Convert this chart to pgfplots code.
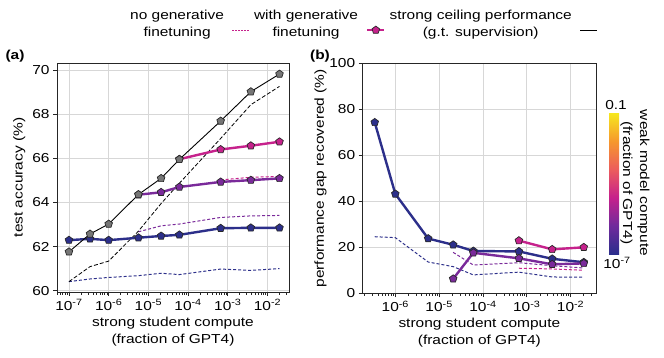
\documentclass[border=0pt]{standalone}
\usepackage{fontspec}
\setmainfont{Liberation Sans}[FakeStretch=1.19]
\usepackage{pgfplots}
\pgfplotsset{compat=1.18}
\usetikzlibrary{plotmarks}

\definecolor{wnavy}{RGB}{44,47,138}
\definecolor{wpurple}{RGB}{122,42,154}
\definecolor{wmag}{RGB}{198,34,140}
\definecolor{ceilgray}{RGB}{118,118,118}
\definecolor{edge}{RGB}{40,40,40}
\definecolor{gridgray}{RGB}{215,215,215}

\newcommand\fs{\fontsize{13}{17}\selectfont}

% weak model compute colour scale (10^-7 bottom, 0.1 top); TikZ maps 25bp..75bp onto the path
\pgfdeclareverticalshading{weakbar}{100bp}{
  rgb(0bp)=(0.165,0.180,0.549);
  rgb(25bp)=(0.165,0.180,0.549);
  rgb(35bp)=(0.439,0.165,0.612);
  rgb(45bp)=(0.776,0.125,0.549);
  rgb(55bp)=(0.925,0.361,0.361);
  rgb(65bp)=(0.965,0.596,0.173);
  rgb(75bp)=(0.965,0.910,0.118);
  rgb(100bp)=(0.965,0.910,0.118)}

\pgfplotsset{
  panel/.style={
    scale only axis,
    tick align=outside, xtick pos=bottom, ytick pos=left,
    grid=major, grid style={gridgray, line width=0.7pt},
    axis line style={line width=0.8pt, black!85},
    tick style={black!85, line width=0.7pt},
    major tick length=4pt, minor tick length=2.5pt,
    font=\fs,
    yticklabel style={/pgf/number format/assume math mode=true},
    xlabel style={align=center},
    xlabel={strong student compute\\(fraction of GPT4)},
  },
  thickw/.style={line width=2.4pt, mark=pentagon*, mark size=4pt,
    mark options={fill=#1, draw=edge, line width=0.7pt, solid}, #1},
  dashw/.style={#1, line width=1pt, dash pattern=on 3pt off 2pt},
}

\begin{document}
\begin{tikzpicture}
\useasboundingbox (0pt,0pt) rectangle (664pt,357pt);

% ---------- (a) test accuracy ----------
\begin{semilogxaxis}[panel,
  log basis x=10,
  xticklabel={\pgfmathparse{int(round(\tick))}10\textsuperscript{\pgfmathresult}},
  at={(57pt,65pt)}, anchor=south west,
  width=232pt, height=229pt,
  xmin=5.0e-8, xmax=3.47e-2,
  ymin=59.94, ymax=70.32,
  ytick={60,62,64,66,68,70},
  ylabel={test accuracy (\%)},
  legend plot pos=right,
  legend image post style={yshift=-6pt},
  legend style={at={(1.319,1.17)}, anchor=center, draw=none, fill=none,
    legend columns=3, cells={align=center}, font=\fs,
    /tikz/every even column/.append style={column sep=2pt},
    /tikz/every odd column/.append style={column sep=6pt}},
]
\addlegendimage{wmag, line width=1pt, dash pattern=on 1.5pt off 1.5pt}
\addlegendentry{no generative\\finetuning}
\addlegendimage{thickw=wmag}
\addlegendentry{with generative\\finetuning}
\addlegendimage{black, line width=0.9pt}
\addlegendentry{strong ceiling performance\\(g.t. supervision)}

% no generative finetuning
\addplot[dashw=wnavy, forget plot] coordinates {
 (1e-7,60.41)(3.39e-7,60.53)(1e-6,60.60)(5.62e-6,60.68)(2.09e-5,60.79)
 (6.03e-5,60.73)(6.61e-4,60.98)(3.80e-3,60.92)(2.0e-2,61.00)};
\addplot[dashw=wpurple, forget plot] coordinates {
 (5.62e-6,62.67)(2.09e-5,62.94)(6.03e-5,63.02)(6.61e-4,63.32)(3.80e-3,63.39)(2.0e-2,63.41)};
\addplot[dashw=wmag, forget plot] coordinates {
 (6.61e-4,65.02)(3.80e-3,65.14)(2.0e-2,65.18)};
\addplot[black, line width=0.8pt, dash pattern=on 4pt off 2pt, forget plot] coordinates {
 (1e-7,60.41)(3.39e-7,61.09)(1e-6,61.34)(5.62e-6,62.70)(2.09e-5,63.95)
 (6.03e-5,64.87)(6.61e-4,66.90)(3.80e-3,68.43)(2.0e-2,69.26)};

% with generative finetuning
\addplot[thickw=wnavy, forget plot] coordinates {
 (1e-7,62.29)(3.39e-7,62.35)(1e-6,62.29)(5.62e-6,62.40)(2.09e-5,62.48)
 (6.03e-5,62.53)(6.61e-4,62.83)(3.80e-3,62.85)(2.0e-2,62.85)};
\addplot[thickw=wpurple, forget plot] coordinates {
 (5.62e-6,64.35)(2.09e-5,64.46)(6.03e-5,64.70)(6.61e-4,64.93)(3.80e-3,65.01)(2.0e-2,65.09)};
\addplot[thickw=wmag, forget plot] coordinates {
 (6.03e-5,65.96)(6.61e-4,66.40)(3.80e-3,66.57)(2.0e-2,66.75)};

% strong ceiling
\addplot[black, line width=0.9pt, mark=pentagon*, mark size=4pt,
  mark options={fill=ceilgray, draw=edge, line width=0.7pt}, forget plot] coordinates {
 (1e-7,61.76)(3.39e-7,62.57)(1e-6,63.02)(5.62e-6,64.36)(2.09e-5,65.09)
 (6.03e-5,65.95)(6.61e-4,67.69)(3.80e-3,69.02)(2.0e-2,69.82)};
\end{semilogxaxis}

% ---------- (b) performance gap recovered ----------
\begin{semilogxaxis}[panel,
  log basis x=10,
  xticklabel={\pgfmathparse{int(round(\tick))}10\textsuperscript{\pgfmathresult}},
  at={(362.7pt,63.7pt)}, anchor=south west,
  width=233.3pt, height=230pt,
  xmin=1.8e-7, xmax=3.8e-2,
  ymin=0, ymax=100,
  ytick={0,20,40,60,80,100},
  ylabel={performance gap recovered (\%)},
  ylabel shift=-4pt,
]
\addplot[dashw=wnavy] coordinates {
 (3.39e-7,24.6)(1e-6,24.2)(5.62e-6,13.6)(2.09e-5,11.6)(6.03e-5,8.0)
 (6.61e-4,9.2)(3.80e-3,7.1)(2.0e-2,7.0)};
\addplot[dashw=wpurple] coordinates {
 (2.09e-5,17.8)(6.03e-5,12.3)(6.61e-4,13.3)(3.80e-3,12.0)(2.0e-2,11.0)};
\addplot[dashw=wmag] coordinates {
 (6.61e-4,10.9)(3.80e-3,10.6)(2.0e-2,10.0)};

\addplot[thickw=wnavy] coordinates {
 (3.39e-7,74.3)(1e-6,43.2)(5.62e-6,23.8)(2.09e-5,21.1)(6.03e-5,18.4)
 (6.61e-4,18.2)(3.80e-3,15.0)(2.0e-2,13.5)};
\addplot[thickw=wpurple] coordinates {
 (2.09e-5,6.3)(6.03e-5,17.6)(6.61e-4,15.2)(3.80e-3,12.6)(2.0e-2,13.0)};
\addplot[thickw=wmag] coordinates {
 (6.61e-4,22.9)(3.80e-3,19.1)(2.0e-2,20.0)};
\end{semilogxaxis}

% colour bar, panel letters and colour bar labels
\shade[shading=weakbar] (609pt,103pt) rectangle (619pt,244pt);
\node[font=\fs\bfseries] at (15pt,301pt) {(a)};
\node[font=\fs\bfseries] at (320pt,301pt) {(b)};
\node[font=\fs] at (616pt,252pt) {0.1};
\node[font=\fs] at (617pt,94pt) {10\textsuperscript{-7}};
\node[font=\fs, rotate=-90, align=center] at (635pt,174pt)
  {weak model compute\\(fraction of GPT4)};
\end{tikzpicture}
\end{document}
